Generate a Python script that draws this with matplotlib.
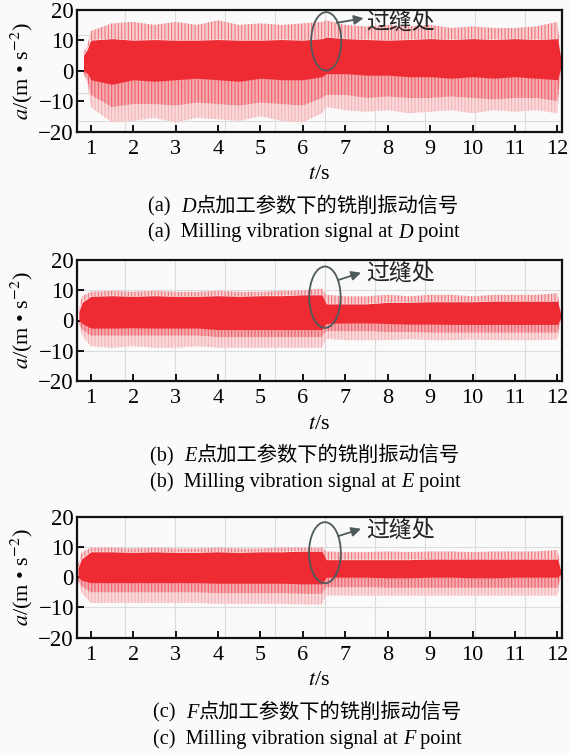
import numpy as np
import matplotlib.pyplot as plt
from matplotlib.patches import Ellipse

plt.rcParams['font.family'] = ['Liberation Serif', 'Noto Sans CJK SC']
plt.rcParams['mathtext.fontset'] = 'stix'
plt.rcParams['hatch.linewidth'] = 0.7

# 包络数据, 单位 m/s^2
t_d = [0.83, 0.92, 1.0, 1.5, 2.0, 2.5, 3.0, 3.5, 4.0, 4.5, 5.0, 5.5, 6.0, 6.45,
       6.55, 7.0, 7.5, 8.0, 8.5, 9.0, 9.5, 10.0, 10.5, 11.0, 11.5, 12.0, 12.08]
t_e = [0.72, 0.80, 1.0, 1.5, 2.0, 2.5, 3.0, 3.5, 4.0, 4.5, 5.0, 5.5, 6.0, 6.45,
       6.55, 7.0, 7.5, 8.0, 8.5, 9.0, 9.5, 10.0, 10.5, 11.0, 11.5, 12.0, 12.08]
t_f = [0.70, 0.78, 1.0, 1.5, 2.0, 2.5, 3.0, 3.5, 4.0, 4.5, 5.0, 5.5, 6.0, 6.45,
       6.55, 7.0, 7.5, 8.0, 8.5, 9.0, 9.5, 10.0, 10.5, 11.0, 11.5, 12.0, 12.08]

d_hi = [6, 8, 13, 15.5, 16, 15, 16, 15, 16.5, 15, 15.5, 15, 15.5, 16,
        16.5, 15, 14.5, 15, 14.5, 15, 14, 14.5, 14, 14, 14.5, 16, 4]
d_core_hi = [5, 7, 10, 10.5, 10, 10.2, 10, 10, 10.2, 10, 10, 10.2, 10, 10.5,
             11, 10.5, 10.2, 10, 10.2, 10.5, 10.2, 10.5, 10.2, 10.5, 10.2, 10.5, 4]
d_core_lo = [0, -1, -3, -4.5, -3, -3.5, -3, -2.5, -3, -3.5, -2.5, -3, -3, -2,
             -1, -1, -1.5, -1.5, -2, -2, -2.5, -2, -2.5, -2, -2.5, -3, 1]
d_mid_lo = [-1, -3, -8, -12, -11, -11, -11.5, -10.5, -11, -11.5, -10.5, -11, -11.5, -9,
            -8, -8, -9, -8.5, -9, -9, -8.5, -9, -9.5, -9, -9, -10, 0]
d_lo = [-1, -4, -12, -17, -16.5, -15.5, -17, -15.5, -16, -16.5, -15, -16.5, -17, -14,
        -12, -13, -13.5, -13, -14, -13.5, -13, -14, -13, -13.5, -13, -14, 0]

e_hi = [4, 8, 9.5, 9.8, 9.5, 9.8, 9.5, 9.5, 9.8, 9.5, 9.5, 9.8, 10, 10.5,
        8.5, 8, 8, 8.5, 8, 8.5, 8.5, 8, 8.5, 8.5, 8.5, 9, 3]
e_core_hi = [3, 6, 8, 8.2, 8, 8.2, 8, 8, 8.2, 8, 8.2, 8.2, 8.5, 8.5,
             5.5, 5.5, 5.5, 6, 6, 6.2, 6.2, 6.2, 6.4, 6.4, 6.4, 6.4, 2]
e_core_lo = [0, -1, -2.5, -2.5, -2.4, -2.5, -2.5, -2.5, -3, -3, -3, -3, -3, -3,
             -1, -0.8, -0.8, -1, -1.2, -1.2, -1.3, -1.3, -1.3, -1.3, -1.3, -1.3, 1]
e_mid_lo = [-1, -3, -5, -5, -5, -5, -5, -5, -5.5, -5.5, -5.5, -5.5, -5.5, -5.5,
            -3.5, -3.5, -3.5, -3.8, -3.8, -4, -4, -4, -4, -4, -4, -4, 0]
e_lo = [-1, -5, -8.5, -9, -8.5, -9, -9, -8.5, -9, -9, -9, -9, -9, -9,
        -6, -6.5, -6.5, -6.5, -6.2, -6.5, -6.5, -6.3, -6.5, -6.5, -6.5, -6.3, 0]

f_hi = [4, 8, 9.8, 9.8, 9.5, 9.8, 9.5, 9.5, 9.8, 9.5, 9.5, 9.8, 9.8, 9.8,
        8.5, 8.3, 8.3, 8.5, 8.3, 8.5, 8.5, 8.3, 8.5, 8.5, 8.5, 9, 3]
f_core_hi = [3, 6, 8.4, 8.4, 8.2, 8.4, 8.2, 8.2, 8.4, 8.2, 8.4, 8.4, 8.6, 8.6,
             5.8, 5.8, 5.8, 5.8, 5.8, 6, 6, 6, 6, 6, 6, 6, 2]
f_core_lo = [0, -1, -1.8, -1.8, -1.8, -1.8, -1.8, -1.8, -2, -2, -2, -2, -2.2, -2.2,
             0, 0, 0, -0.2, -0.2, 0, 0, -0.2, -0.2, 0, 0, 0, 1]
f_mid_lo = [-1, -3, -5, -5, -5, -5, -5, -5, -5.3, -5.3, -5.3, -5.3, -5.5, -5.5,
            -3.3, -3.3, -3.3, -3.5, -3.5, -3.5, -3.5, -3.5, -3.5, -3.5, -3.5, -3.5, 0]
f_lo = [-1, -5, -8.5, -8.5, -8.5, -8.5, -8.5, -8.5, -8.8, -8.8, -8.8, -8.8, -9, -9,
        -6, -6.1, -6.1, -6.1, -6.1, -6.1, -6.1, -6.1, -6.1, -6.1, -6.1, -6.1, 0]

# 过缝处标注 (椭圆中心 t, a, 宽, 高)
seam_d = (6.55, 9.6, 0.71, 19.2)
seam_e = (6.52, 7.7, 0.74, 20.3)
seam_f = (6.52, 8.1, 0.75, 20.2)

labels = ['a', 'b', 'c']
points = ['D', 'E', 'F']

W, H = 570, 753
fig = plt.figure(figsize=(W / 100, H / 100), dpi=100, facecolor='#fafafa')

C_CORE = '#ee2a33'
C_GREY = '#4f5a5a'


def px(x, y):
    return x / W, 1 - y / H


def caption(ax, x, y, pieces):
    prev = None
    for txt, fam, sty in pieces:
        size = 14.6
        if prev is None:
            prev = fig.text(*px(x, y), txt, fontsize=size, family=fam, style=sty,
                            va='baseline', ha='left')
        else:
            prev = ax.annotate(txt, xy=(1, H - y), xycoords=(prev, 'figure pixels'),
                               fontsize=size, family=fam, style=sty,
                               va='baseline', ha='left', annotation_clip=False)


def draw_panel(top, bottom, t, hi, core_hi, core_lo, mid_lo, lo, seam, hgrid,
               arrow, text_y, idx):
    x0, y1 = px(76.7, top)
    x1, y0 = px(561.7, bottom)
    ax = fig.add_axes([x0, y0, x1 - x0, y1 - y0])
    ax.set_facecolor('#fafafa')

    # 背景网格
    for g in [1.81, 2.99, 4.17, 5.34, 6.52, 7.70, 8.88, 10.05, 11.23]:
        ax.axvline(g, color='#dcdcdc', lw=0.8, zorder=0)
    for g in hgrid:
        ax.axhline(g, color='#dcdcdc', lw=0.8, zorder=0)

    # 信号包络
    ax.fill_between(t, core_hi, hi, facecolor='#f8cfd1', edgecolor='#f06870',
                    hatch='|||||', lw=0, zorder=1)
    ax.fill_between(t, lo, mid_lo, facecolor='#fad9db', edgecolor='#f3aeb1',
                    hatch='|||||', lw=0, zorder=1)
    ax.fill_between(t, mid_lo, core_lo, facecolor='#f4aaae', edgecolor='#ee5860',
                    hatch='|||||', lw=0, zorder=1)
    ax.fill_between(t, core_lo, core_hi, color=C_CORE, lw=0, zorder=2)

    ax.add_patch(Ellipse((seam[0], seam[1]), seam[2], seam[3], fill=False,
                         ec=C_GREY, lw=1.3, zorder=5))
    ax.annotate('', xy=arrow[1], xytext=arrow[0],
                arrowprops=dict(arrowstyle='-|>', color=C_GREY, lw=1.3,
                                mutation_scale=14, shrinkA=0, shrinkB=0), zorder=5)
    ax.text(7.49, text_y, '过缝处', fontsize=16.5, va='center', ha='left',
            color='#222222', family='Noto Sans CJK SC', zorder=5)

    ax.set_xlim(0.67, 12.10)
    ax.set_ylim(-20, 20)
    ax.set_xticks(range(1, 13))
    ax.set_yticks([-20, -10, 0, 10, 20])
    ax.set_yticklabels(['\u221220', '\u221210', '0', '10', '20'])
    ax.tick_params(axis='x', direction='in', length=5, width=1.3, pad=6,
                   labelsize=16, top=False)
    ax.tick_params(axis='y', direction='in', length=5, width=1.3, pad=2,
                   labelsize=16.5, right=False)
    for s in ax.spines.values():
        s.set_linewidth(1.6)
        s.set_color('#111111')

    fig.text(*px(22, (top + bottom) / 2), r'$a$/(m • s$^{-2}$)', rotation=90,
             fontsize=16, ha='center', va='center')
    fig.text(*px(319, bottom + 47.5), r'$t$/s', fontsize=16, ha='center',
             va='baseline')

    # 图注
    lx = [148, 150, 153][idx]
    caption(ax, lx, bottom + 80, [('(%s)  ' % labels[idx], 'Liberation Serif', 'normal'),
                                  (points[idx], 'Liberation Serif', 'italic'),
                                  ('点加工参数下的铣削振动信号', 'Noto Sans CJK SC', 'normal')])
    caption(ax, lx, bottom + 106, [('(%s)  Milling vibration signal at ' % labels[idx],
                                    'Liberation Serif', 'normal'),
                                   (points[idx], 'Liberation Serif', 'italic'),
                                   (' point', 'Liberation Serif', 'normal')])
    return ax


draw_panel(9.7, 131.5, t_d, d_hi, d_core_hi, d_core_lo, d_mid_lo, d_lo, seam_d,
           [11.6, -7.3, -16.6], ((6.80, 15.7), (7.43, 17.2)), 15.8, 0)
draw_panel(260, 381, t_e, e_hi, e_core_hi, e_core_lo, e_mid_lo, e_lo, seam_e,
           [10, -10], ((6.84, 13.4), (7.37, 15.8)), 15.6, 1)
draw_panel(516.7, 637.7, t_f, f_hi, f_core_hi, f_core_lo, f_mid_lo, f_lo, seam_f,
           [10, -10], ((6.84, 13.6), (7.37, 16.0)), 15.5, 2)

fig.savefig('out.png', dpi=100, facecolor=fig.get_facecolor())
